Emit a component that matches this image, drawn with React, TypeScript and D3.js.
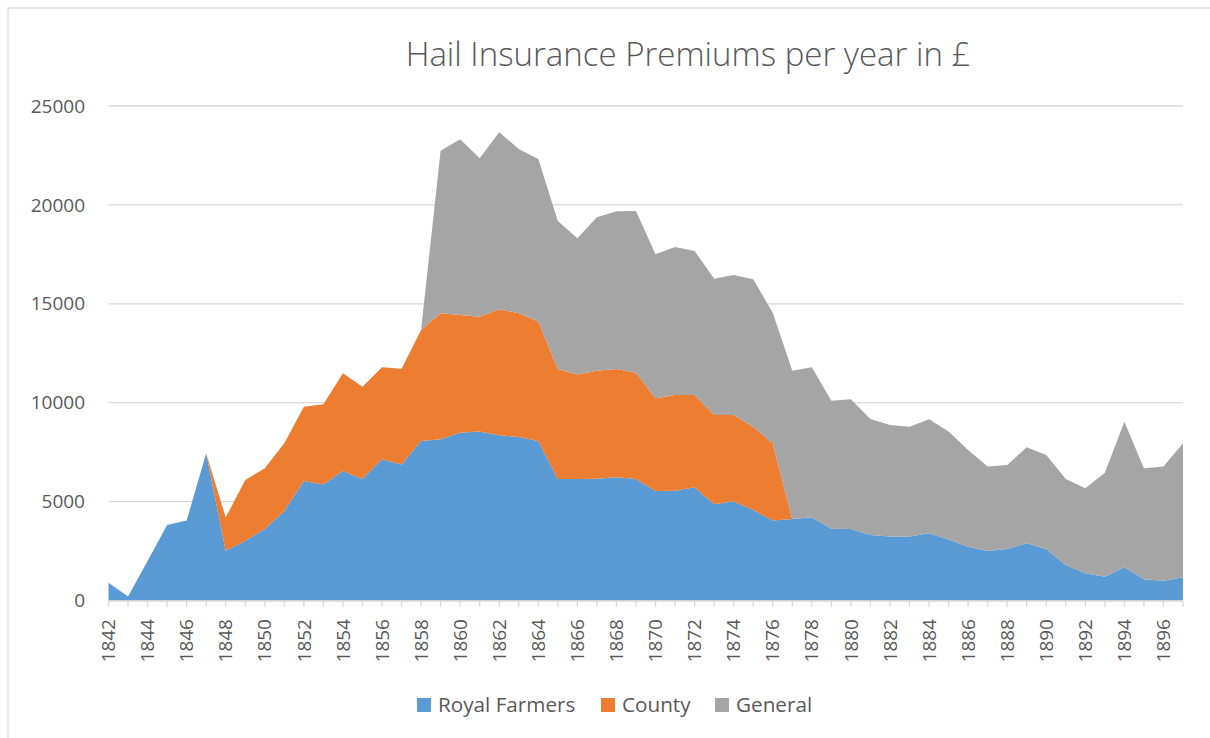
import React, { useEffect, useRef } from "react";
import * as d3 from "d3";

const years: number[] = d3.range(1842, 1898);

const royalFarmers: number[] = [
  900, 200, 2000, 3820, 4040, 7440, 2520, 3010, 3620, 4530,
  6040, 5870, 6550, 6140, 7140, 6870, 8060, 8150, 8480, 8550,
  8350, 8270, 8060, 6140, 6140, 6150, 6230, 6140, 5540, 5550,
  5720, 4860, 5020, 4580, 4040, 4120, 4210, 3630, 3620, 3310,
  3230, 3230, 3400, 3090, 2720, 2500, 2600, 2890, 2600, 1800,
  1380, 1200, 1680, 1070, 1000, 1170,
];

const county: number[] = [
  0, 0, 0, 0, 0, 0, 1670, 3080, 3060, 3420,
  3760, 4050, 4940, 4670, 4650, 4850, 5620, 6370, 5950, 5800,
  6370, 6250, 6040, 5560, 5280, 5470, 5470, 5380, 4680, 4840,
  4670, 4520, 4360, 4210, 3910, 0, 0, 0, 0, 0,
  0, 0, 0, 0, 0, 0, 0, 0, 0, 0,
  0, 0, 0, 0, 0, 0,
];

const general: number[] = [
  0, 0, 0, 0, 0, 0, 0, 0, 0, 0,
  0, 0, 0, 0, 0, 0, 0, 8220, 8890, 8010,
  8950, 8310, 8220, 7490, 6890, 7750, 7980, 8170, 7280, 7480,
  7280, 6890, 7080, 7450, 6600, 7500, 7580, 6470, 6550, 5870,
  5640, 5560, 5760, 5450, 4890, 4270, 4250, 4860, 4760, 4340,
  4290, 5260, 7360, 5610, 5770, 6780,
];

const seriesNames: string[] = ["Royal Farmers", "County", "General"];
const seriesColors: string[] = ["#5B9BD5", "#ED7D31", "#A5A5A5"];
const yTicks: number[] = [0, 5000, 10000, 15000, 20000, 25000];
const title = "Hail Insurance Premiums per year in £";

const FONT = "'Open Sans', 'Noto Sans', sans-serif";
const TEXT = "#595959";
const GRID = "#D9D9D9";

export default function App() {
  const ref = useRef<SVGSVGElement | null>(null);

  useEffect(() => {
    const svg = d3.select(ref.current);
    svg.selectAll("*").remove();

    const left = 108.5, right = 1183, top = 106, bottom = 600.5;

    const x = d3.scaleLinear().domain([years[0], years[years.length - 1]]).range([left, right]);
    const y = d3.scaleLinear().domain([0, 25000]).range([bottom, top]);

    // border
    svg.append("rect")
      .attr("x", 8).attr("y", 8).attr("width", 1230).attr("height", 760)
      .attr("fill", "#fff").attr("stroke", GRID).attr("stroke-width", 1.3);

    // title
    svg.append("text")
      .attr("x", 688).attr("y", 66)
      .attr("text-anchor", "middle")
      .attr("font-family", FONT).attr("font-size", 33).attr("font-weight", 300)
      .attr("fill", TEXT).text(title);

    // gridlines
    svg.append("g").selectAll("line").data(yTicks.filter((t) => t > 0)).join("line")
      .attr("x1", left).attr("x2", right)
      .attr("y1", (d) => y(d)).attr("y2", (d) => y(d))
      .attr("stroke", GRID).attr("stroke-width", 1.3);

    // y labels
    svg.append("g").selectAll("text").data(yTicks).join("text")
      .attr("x", 85).attr("y", (d) => y(d))
      .attr("dy", "0.35em").attr("text-anchor", "end")
      .attr("font-family", FONT).attr("font-size", 19).attr("fill", TEXT)
      .text((d) => String(d));

    // stacked areas
    const table = years.map((yr, i) => ({
      year: yr,
      "Royal Farmers": royalFarmers[i],
      County: county[i],
      General: general[i],
    }));
    const stack = d3.stack<any>().keys(seriesNames);
    const layers = stack(table);
    const area = d3.area<any>()
      .x((d) => x(d.data.year))
      .y0((d) => y(d[0]))
      .y1((d) => y(d[1]));

    svg.append("g").selectAll("path").data(layers).join("path")
      .attr("d", (d) => area(d) as string)
      .attr("fill", (_d, i) => seriesColors[i]);

    // x axis line and ticks
    svg.append("line")
      .attr("x1", left).attr("x2", right).attr("y1", bottom + 0.5).attr("y2", bottom + 0.5)
      .attr("stroke", GRID).attr("stroke-width", 1.3);
    svg.append("g").selectAll("line").data(years).join("line")
      .attr("x1", (d) => x(d)).attr("x2", (d) => x(d))
      .attr("y1", bottom + 0.5).attr("y2", bottom + 6.5)
      .attr("stroke", GRID).attr("stroke-width", 1.3);

    // x labels
    svg.append("g").selectAll("text").data(years.filter((yr) => (yr - 1842) % 2 === 0)).join("text")
      .attr("transform", (d) => `translate(${x(d)},${619}) rotate(-90)`)
      .attr("dy", "0.35em").attr("text-anchor", "end")
      .attr("font-family", FONT).attr("font-size", 19).attr("fill", TEXT)
      .text((d) => String(d));

    // legend
    const legendX = [417, 601, 715];
    const lg = svg.append("g");
    seriesNames.forEach((name, i) => {
      lg.append("rect")
        .attr("x", legendX[i]).attr("y", 698).attr("width", 14).attr("height", 14)
        .attr("fill", seriesColors[i]);
      lg.append("text")
        .attr("x", legendX[i] + 21).attr("y", 705).attr("dy", "0.35em")
        .attr("font-family", FONT).attr("font-size", 20.7).attr("fill", TEXT)
        .text(name);
    });
  }, []);

  return (
    <svg
      ref={ref}
      width={1210}
      height={738}
      style={{ position: "absolute", left: 0, top: 0, display: "block" }}
    />
  );
}
